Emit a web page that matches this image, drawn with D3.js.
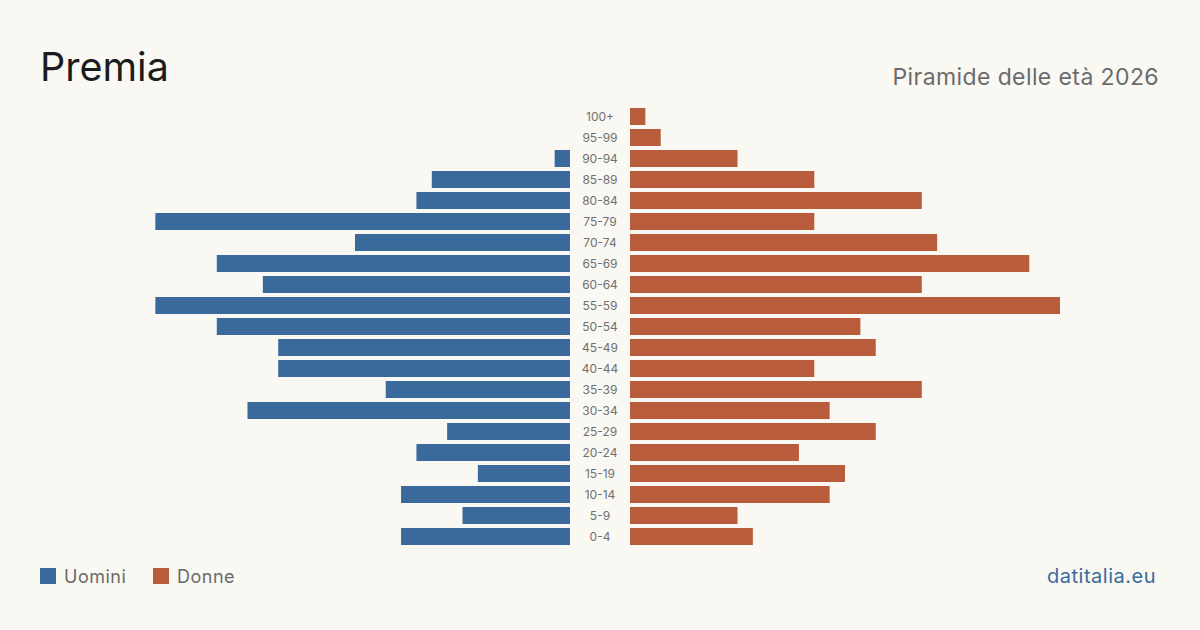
<!DOCTYPE html>
<html>
<head>
<meta charset="utf-8">
<script src="https://cdn.jsdelivr.net/npm/d3@7"></script>
<style>
  body { margin: 0; background: #f9f8f3; }
  svg { display: block; font-family: Inter, "Noto Sans", sans-serif; }
</style>
</head>
<body>
<svg id="chart" width="1200" height="630"></svg>
<script>
var ages = ['100+', '95-99', '90-94', '85-89', '80-84', '75-79', '70-74', '65-69', '60-64', '55-59',
            '50-54', '45-49', '40-44', '35-39', '30-34', '25-29', '20-24', '15-19', '10-14', '5-9', '0-4'];
var uomini = [0, 0, 1, 9, 10, 27, 14, 23, 20, 27, 23, 19, 19, 12, 21, 8, 10, 6, 11, 7, 11];
var donne  = [1, 2, 7, 12, 19, 12, 20, 26, 19, 28, 15, 16, 12, 19, 13, 16, 11, 14, 13, 7, 8];

var blue = '#3a6a9c', red = '#b95c3c';
var svg = d3.select('#chart');

svg.append('rect').attr('width', 1200).attr('height', 630).attr('fill', '#f9f8f3');

// titles
svg.append('text').attr('x', 40).attr('y', 81)
   .attr('font-size', 39.5).attr('fill', '#1c1c1c').text('Premia');
svg.append('text').attr('x', 1159).attr('y', 85).attr('text-anchor', 'end')
   .attr('font-size', 23).attr('letter-spacing', 0.4).attr('fill', '#6b6b6b').text('Piramide delle età 2026');

var y = d3.scaleBand().domain(ages).range([106, 547]).paddingInner(0.19).paddingOuter(0.095);
var xL = d3.scaleLinear().domain([0, 28]).range([570, 140]);
var xR = d3.scaleLinear().domain([0, 28]).range([630, 1060]);

var g = svg.append('g');
g.selectAll('.m').data(ages).enter().append('rect')
  .attr('x', function(d, i) { return xL(uomini[i]); })
  .attr('y', function(d) { return y(d); })
  .attr('width', function(d, i) { return xL(0) - xL(uomini[i]); })
  .attr('height', y.bandwidth())
  .attr('fill', blue);

g.selectAll('.f').data(ages).enter().append('rect')
  .attr('x', xR(0))
  .attr('y', function(d) { return y(d); })
  .attr('width', function(d, i) { return xR(donne[i]) - xR(0); })
  .attr('height', y.bandwidth())
  .attr('fill', red);

g.selectAll('.lab').data(ages).enter().append('text')
  .attr('x', 600)
  .attr('y', function(d) { return y(d) + y.bandwidth() / 2; })
  .attr('dy', '0.35em')
  .attr('text-anchor', 'middle')
  .attr('font-size', 12).attr('fill', '#707070')
  .text(function(d) { return d; });

// legend
var leg = [['Uomini', blue, 40], ['Donne', red, 153]];
leg.forEach(function(l) {
  svg.append('rect').attr('x', l[2]).attr('y', 568).attr('width', 16).attr('height', 16).attr('fill', l[1]);
  svg.append('text').attr('x', l[2] + 24).attr('y', 583)
     .attr('font-size', 18).attr('letter-spacing', 0.5).attr('fill', '#6b6b6b').text(l[0]);
});

svg.append('text').attr('x', 1156).attr('y', 583).attr('text-anchor', 'end')
   .attr('font-size', 20).attr('letter-spacing', 0.5).attr('fill', blue).text('datitalia.eu');
</script>
</body>
</html>
